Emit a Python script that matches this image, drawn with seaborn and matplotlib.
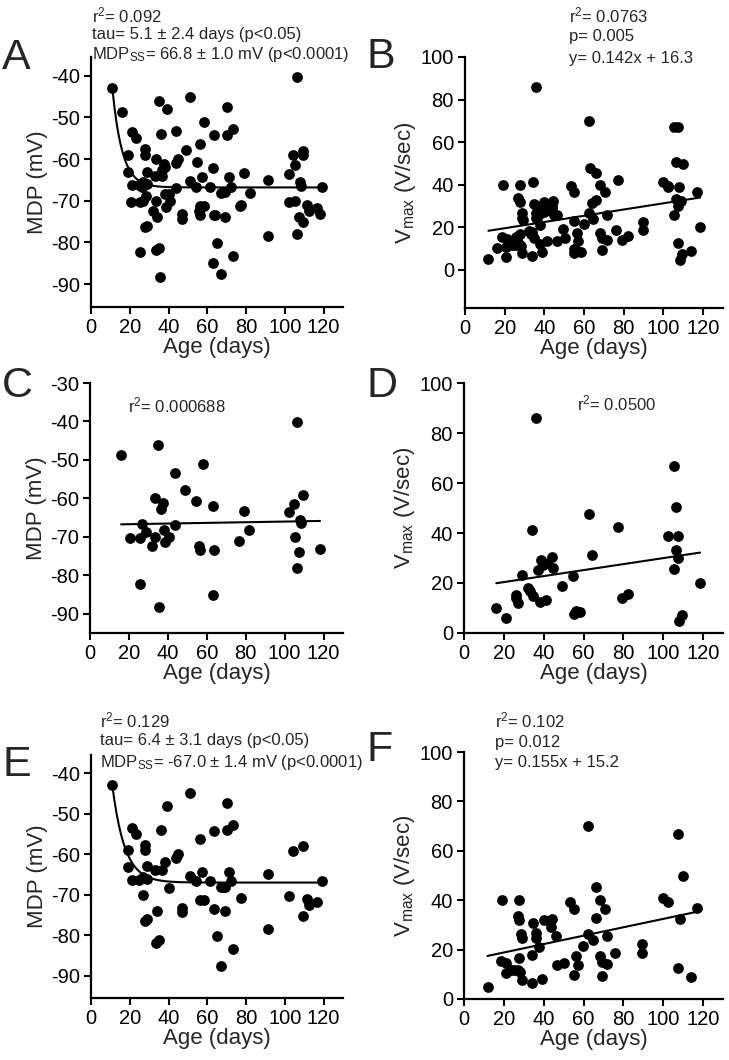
import numpy as np
import matplotlib
matplotlib.use("Agg")
import matplotlib.pyplot as plt
import seaborn as sns

# group 1 (panels C, D)
c_age = [16, 20.5, 25.5, 26.5, 25.5, 28.6, 31.8, 33.5, 33.5, 34.9, 35.6, 36.6, 37.7, 38.2,
         38.7, 40.8, 43.9, 43.9, 48.8, 54.7, 55.9, 56.4, 58.1, 63, 63.8, 63, 76.7, 79, 81.8,
         102.1, 105, 105.3, 106.2, 107.9, 108.3, 109.3, 107.4, 106.5, 118.2]
c_mdp = [-48.7, -70.4, -70.4, -66.7, -82.3, -68.8, -72.5, -70.1, -59.9, -46.1, -88.2, -62.7,
         -61.1, -68.3, -71.4, -70.1, -66.9, -53.3, -57.8, -60.6, -72.5, -73.4, -51.1, -62.1,
         -73.4, -85, -71.2, -63.3, -68.2, -63.6, -61.5, -70.1, -40.2, -65.6, -66.5, -59.1,
         -73.9, -78, -73.2]
d_age = [16.2, 20.9, 25.9, 26.2, 27, 29, 32, 33.2, 34.2, 34.6, 35.9, 37, 37.9, 38.7, 39.6,
         41.2, 42, 44, 44.6, 49.2, 54.9, 55, 56.3, 58.4, 62.8, 64.1, 77.2, 79.1, 82.1, 102.3,
         105.4, 106.4, 107.6, 106.4, 107.4, 105.4, 108.1, 109.3, 118.5]
d_vmax = [10, 6, 15.3, 14, 12, 23.3, 18, 17, 41.3, 14.7, 86, 25.3, 12.3, 29.3, 27.3, 13.3,
          28, 30.3, 25.9, 19, 23, 7.7, 8.9, 8.4, 47.7, 31.2, 42.4, 14, 15.7, 38.9, 66.9, 50.5,
          38.9, 33.2, 29.9, 25.6, 4.8, 7.2, 19.9]

# group 2 (panels E, F)
e_age = [11, 19, 19, 21, 21, 23, 25, 27, 28, 28, 29, 27, 29, 27.7, 29, 33, 34, 33.4, 35, 36,
         36.4, 38, 39, 40, 44, 45, 47, 47, 51, 51, 54, 56, 56, 57.2, 58.5, 61.4, 63.3, 63.3,
         65.2, 66.9, 67, 68, 69, 69.3, 70.3, 70.3, 71.3, 72.4, 73.4, 73.4, 77.4, 91.1, 91.1,
         102.2, 104.1, 109.2, 109.2, 111.3, 112.5, 116.5, 119]
e_mdp = [-43, -59, -63.1, -53.5, -66.3, -55, -66.3, -70, -57.6, -59, -63, -65.5, -66, -76.4,
         -76, -64, -74, -81.9, -81.3, -54, -64, -62, -48, -68.4, -61, -60, -73.2, -74.3, -45,
         -65.3, -66.6, -56.3, -71.3, -64.3, -71.3, -66.6, -54.3, -73.5, -80.1, -87.6, -68.2,
         -68, -68, -73.9, -47.4, -54.1, -64.3, -66.6, -52.7, -83.3, -70.9, -64.9, -78.5, -70.3,
         -59.1, -58, -75.2, -71.1, -72.5, -71.7, -66.6]
f_age = [11.8, 19.1, 18.8, 20.9, 21.2, 23.7, 25.3, 26.9, 27.6, 26.9, 27.8, 28.6, 28.9, 27.8,
         28.2, 28.9, 34, 34, 34.8, 35.9, 35.9, 37.6, 38.9, 40, 44.1, 43.8, 46.2, 46.5, 50.3,
         53.4, 55, 56.3, 55, 57.1, 59.9, 62.4, 62.4, 64.5, 66.1, 66.1, 68.1, 68.1, 69.1, 69.1,
         70.7, 71.8, 71.8, 75.9, 89.5, 89.5, 99.8, 102.4, 107.3, 108.6, 109.9, 107.3, 114, 117]
f_vmax = [5, 40, 15.4, 10.6, 14.4, 11.7, 11.7, 11.7, 40, 33.6, 31.9, 26.5, 24.5, 16.7, 11,
          7.7, 6.3, 17.8, 30.9, 26.8, 24.5, 21.2, 8.1, 31.9, 32.2, 29.2, 25.5, 13.7, 14.7, 39.4,
          36.3, 17.4, 9.7, 13.7, 21.4, 70, 26.5, 23.9, 45.4, 32.6, 40, 17.4, 9.4, 15.1, 36.3,
          25.5, 14.2, 18.7, 22.2, 18.5, 41, 39.4, 67, 32.2, 49.7, 12.4, 9, 36.7]

# pooled (panels A, B)
a_age = c_age + e_age
a_mdp = c_mdp + e_mdp
b_age = d_age + f_age
b_vmax = d_vmax + f_vmax

# exponential fit parameters (start point, tau, steady state)
fit_a = dict(x0=11, y0=-43, tau=5.1, yss=-66.8)
fit_e = dict(x0=11, y0=-43, tau=6.4, yss=-67.0)

sns.set_style("ticks")
plt.rcParams["font.family"] = ["Liberation Sans", "DejaVu Sans"]
plt.rcParams["mathtext.default"] = "regular"
plt.rcParams["axes.unicode_minus"] = False

W, H = 729, 1060
fig = plt.figure(figsize=(W / 100, H / 100), dpi=100)


def px_axes(l, t, r, b):
    return fig.add_axes([l / W, 1 - b / H, (r - l) / W, (b - t) / H])


def style(ax, xlab, ylab, ylim, yticks):
    ax.set_xlim(0, 130)
    ax.set_ylim(*ylim)
    ax.set_xticks(range(0, 121, 20))
    ax.set_yticks(yticks)
    sns.despine(ax=ax)
    for s in ["left", "bottom"]:
        ax.spines[s].set_linewidth(1.6)
        ax.spines[s].set_color("black")
    ax.tick_params(direction="out", length=5, width=1.5, labelsize=14.5, pad=3, colors="black")
    ax.set_xlabel(xlab, fontsize=16, labelpad=0)
    ax.set_ylabel(ylab, fontsize=16, labelpad=2)


def dots(ax, x, y):
    sns.scatterplot(x=x, y=y, ax=ax, color="black", s=60, linewidth=0, zorder=3)


def expfit(ax, p):
    xs = np.linspace(p["x0"], 119, 200)
    ys = p["yss"] + (p["y0"] - p["yss"]) * np.exp(-(xs - p["x0"]) / p["tau"])
    sns.lineplot(x=xs, y=ys, ax=ax, color="black", lw=1.5)


def linfit(ax, x, y):
    sns.regplot(x=np.array(x), y=np.array(y), ax=ax, scatter=False, ci=None, truncate=True,
                line_kws=dict(color="black", lw=1.5))


mdp_ticks = [-90, -80, -70, -60, -50, -40]
v_ticks = [0, 20, 40, 60, 80, 100]
vlab = "V$_{max}$ (V/sec)"

axA = px_axes(91, 57, 343, 307)
dots(axA, a_age, a_mdp)
expfit(axA, fit_a)
style(axA, "Age (days)", "MDP (mV)", (-95.5, -35.5), mdp_ticks)

axB = px_axes(465, 57, 723, 308)
dots(axB, b_age, b_vmax)
linfit(axB, b_age, b_vmax)
style(axB, "Age (days)", vlab, (-18, 100), v_ticks)

axC = px_axes(90, 383, 343, 633)
dots(axC, c_age, c_mdp)
linfit(axC, c_age, c_mdp)
style(axC, "Age (days)", "MDP (mV)", (-95, -30), [-90, -80, -70, -60, -50, -40, -30])

axD = px_axes(464, 383, 723, 633)
dots(axD, d_age, d_vmax)
linfit(axD, d_age, d_vmax)
style(axD, "Age (days)", vlab, (0, 100), v_ticks)

axE = px_axes(91, 755, 343, 998)
dots(axE, e_age, e_mdp)
expfit(axE, fit_e)
style(axE, "Age (days)", "MDP (mV)", (-95.5, -35.5), mdp_ticks)

axF = px_axes(464, 752, 723, 999)
dots(axF, f_age, f_vmax)
linfit(axF, f_age, f_vmax)
style(axF, "Age (days)", vlab, (0, 100), v_ticks)


def txt(x, y, s, **kw):
    fig.text(x / W, 1 - y / H, s, va="center", ha="left", **kw)


for letter, x, y in [("A", 2, 58), ("B", 367, 57), ("C", 2, 386), ("D", 367, 386),
                     ("E", 2, 765), ("F", 367, 750)]:
    txt(x, y, letter, fontsize=31)

fs = 12
txt(92, 15, "r$^{2}$= 0.092", fontsize=fs)
txt(92, 34, "tau= 5.1 \u00b1 2.4 days (p<0.05)", fontsize=fs)
txt(92, 54, "MDP$_{SS}$= 66.8 \u00b1 1.0 mV (p<0.0001)", fontsize=fs)

txt(569, 15, "r$^{2}$= 0.0763", fontsize=fs)
txt(569, 37, "p= 0.005", fontsize=fs)
txt(569, 58, "y= 0.142x + 16.3", fontsize=fs)

txt(128, 405, "r$^{2}$= 0.000688", fontsize=fs)
txt(577, 403, "r$^{2}$= 0.0500", fontsize=fs)

txt(100, 720, "r$^{2}$= 0.129", fontsize=fs)
txt(100, 741, "tau= 6.4 \u00b1 3.1 days (p<0.05)", fontsize=fs)
txt(100, 763, "MDP$_{SS}$= -67.0 \u00b1 1.4 mV (p<0.0001)", fontsize=fs)

txt(495, 720, "r$^{2}$= 0.102", fontsize=fs)
txt(495, 742, "p= 0.012", fontsize=fs)
txt(495, 763, "y= 0.155x + 15.2", fontsize=fs)

fig.savefig("out.png", dpi=100, facecolor="white")
